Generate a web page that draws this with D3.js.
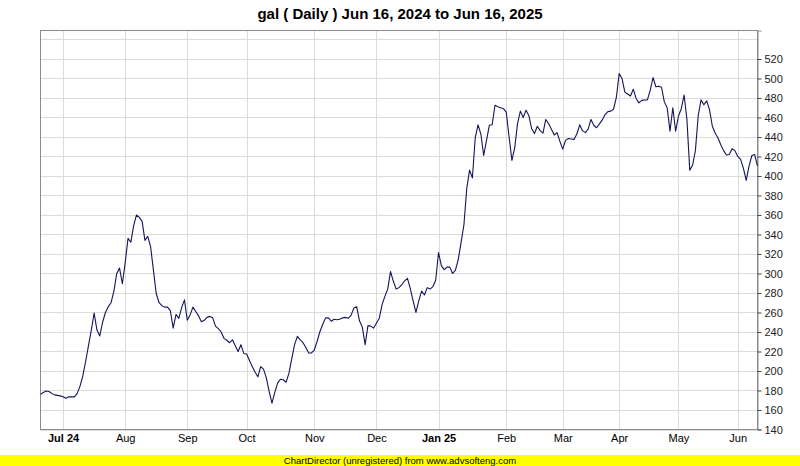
<!DOCTYPE html>
<html>
<head>
<meta charset="utf-8">
<script src="https://cdn.jsdelivr.net/npm/d3@7/dist/d3.min.js"></script>
<style>
  html, body { margin: 0; padding: 0; background: #fff; }
  svg { display: block; }
  text { font-family: "Liberation Sans", Arial, sans-serif; }
</style>
</head>
<body>
<svg id="chart" width="800" height="466"></svg>
<script>
// ---- data (daily closes, trading-day index) ----
const closes = [
176,178,179.5,179,177,175.5,175,174.5,173.5,172,
173.5,173.5,173.5,177,184.5,195,210,226,242,259.5,
242,236,250,260,266,270,282,300,305.5,289.5,
311,336,332,349,360,357.5,353.5,334,338,327.5,
303.5,279.5,270,267,265.5,265.5,262,244,258,254,
265,273,252,257.5,265.5,261,256.5,250.5,252,255,
256,254.5,246,243.5,240,233.5,231.5,229,232,226,
220,227,218,217.5,211,204.5,199,194,204.5,202,
193,179,167,178,187.5,191.5,191,188.5,197.5,212.5,
227,235.5,232,229,224,218.5,218.5,221.5,230.5,240.5,
248,254.5,254.5,251,253,252.5,253,254.5,255,254,
257,264.5,266,251.5,245,227,246.5,246,244,249,
254,268,276.5,284,302,292,284,285.5,288.5,292.5,
295,284.5,272,260,272,282,278,285.5,284,286.5,
293,321.5,308,304,306.5,306.5,300,303.5,314.5,332,
350,387,406,398,439,452.5,443,421,436.5,452,
452.5,472.5,471,470,469,465.5,440,416,429,454,
466.5,460,467.5,462,448.5,443.5,451,446.5,444,458,
453.5,448,442,444.5,435.5,427.5,436.5,438.5,438,437.5,
443,452.5,446.5,444.5,448,458,452,449.5,453.5,457.5,
463,466,466.5,468.5,480.5,505,500,486,484,482,
489,479.5,475,477.5,478,478,488,501,491.5,492,
491,476,470,446,470,446,461.5,469,483,458,
406,411,426,462,478,473,477,468,451,444,
439,432,426,421.5,422,428,426,420,417,408,
395.5,410,421,422,410
];
// index of the first trading day of each month, and its label
const monthStartIndex = [8, 30, 52, 73, 97, 119, 141, 165, 185, 205, 226, 247];
const monthLabels = ["Jul 24", "Aug", "Sep", "Oct", "Nov", "Dec", "Jan 25", "Feb", "Mar", "Apr", "May", "Jun"];
const yearLabels = ["Jul 24", "Jan 25"];
const yTickValues = [140,160,180,200,220,240,260,280,300,320,340,360,380,400,420,440,460,480,500,520];
const yGridValues = [140,160,180,200,220,240,260,280,300,320,340,360,380,400,420,440,460,480,500,520,540];
const titleText = "gal ( Daily ) Jun 16, 2024 to Jun 16, 2025";
const footerText = "ChartDirector (unregistered) from www.advsofteng.com";

// ---- layout ----
const W = 800, H = 466;
const plot = { left: 40.5, right: 757.5, top: 30.5, bottom: 429.5 };

const svg = d3.select("#chart");

const x = d3.scaleLinear().domain([0, closes.length - 1]).range([plot.left, plot.right]);
const y = d3.scaleLinear().domain([140, 549.2]).range([plot.bottom, plot.top]);

// title
svg.append("text")
  .attr("x", 400).attr("y", 19)
  .attr("text-anchor", "middle")
  .attr("font-size", 15).attr("font-weight", "bold")
  .attr("fill", "#000")
  .text(titleText);

// plot background
svg.append("rect")
  .attr("x", plot.left).attr("y", plot.top)
  .attr("width", plot.right - plot.left).attr("height", plot.bottom - plot.top)
  .attr("fill", "#fff");

// horizontal grid
svg.append("g").selectAll("line")
  .data(yGridValues.filter(v => y(v) > plot.top + 1))
  .join("line")
  .attr("x1", plot.left).attr("x2", plot.right)
  .attr("y1", d => Math.round(y(d)) + 0.5).attr("y2", d => Math.round(y(d)) + 0.5)
  .attr("stroke", "#dcdcdc").attr("stroke-width", 1);

// vertical grid (month starts)
svg.append("g").selectAll("line")
  .data(monthStartIndex)
  .join("line")
  .attr("x1", d => Math.round(x(d)) + 0.5).attr("x2", d => Math.round(x(d)) + 0.5)
  .attr("y1", plot.top).attr("y2", plot.bottom)
  .attr("stroke", "#dcdcdc").attr("stroke-width", 1);

// plot border
svg.append("rect")
  .attr("x", plot.left).attr("y", plot.top)
  .attr("width", plot.right - plot.left).attr("height", plot.bottom - plot.top)
  .attr("fill", "none").attr("stroke", "#8c8c8c").attr("stroke-width", 1);

// right y axis
const yAxis = d3.axisRight(y).tickValues(yTickValues).tickSize(4).tickPadding(3).tickFormat(d3.format("d"));
const gy = svg.append("g").attr("transform", `translate(${plot.right},0)`).call(yAxis);
gy.select(".domain").attr("stroke", "#8c8c8c");
gy.selectAll(".tick line").attr("stroke", "#444");
gy.selectAll(".tick text").attr("font-size", 11).attr("fill", "#222")
  .attr("font-family", "'Liberation Sans', Arial, sans-serif");

// bottom x axis labels
const xAxis = d3.axisBottom(x).tickValues(monthStartIndex).tickSize(0).tickPadding(5)
  .tickFormat((d, i) => monthLabels[i]);
const gx = svg.append("g").attr("transform", `translate(0,${plot.bottom})`).call(xAxis);
gx.select(".domain").remove();
gx.selectAll(".tick text")
  .attr("font-size", 11).attr("fill", "#000")
  .attr("font-family", "'Liberation Sans', Arial, sans-serif")
  .attr("font-weight", (d, i) => yearLabels.includes(monthLabels[i]) ? "bold" : "normal");

// price line
const line = d3.line().x((d, i) => x(i)).y(d => y(d));
svg.append("path")
  .datum(closes)
  .attr("d", line)
  .attr("fill", "none")
  .attr("stroke", "#14145a")
  .attr("stroke-width", 1.1)
  .attr("stroke-linejoin", "round");

// footer bar
svg.append("rect").attr("x", 0).attr("y", 455).attr("width", W).attr("height", 11).attr("fill", "#ffff00");
svg.append("text")
  .attr("x", 400).attr("y", 464)
  .attr("text-anchor", "middle")
  .attr("font-size", 9.5).attr("fill", "#000")
  .text(footerText);
</script>
</body>
</html>
